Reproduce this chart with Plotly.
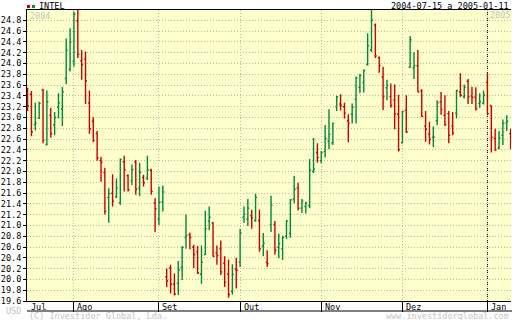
import plotly.graph_objects as go
import pandas as pd

# ---- data -------------------------------------------------------------
holidays = ['2004-09-06', '2004-11-25', '2004-12-24']
dates = [d.strftime('%Y-%m-%d') for d in pd.bdate_range('2004-07-15', '2005-01-11')
         if d.strftime('%Y-%m-%d') not in holidays]

open_ = [23.45, 23.43, 22.87, 22.99, 23.51, 22.50, 23.04, 22.86, 23.19, 23.16,
         23.72, 23.89, 24.04, 24.79, 24.05, 24.08, 23.27, 22.93, 22.70, 22.20,
         21.98, 21.52, 21.59, 21.53, 21.42, 22.18, 21.92, 21.83, 22.18, 21.69,
         21.89, 21.87, 22.02, 21.42, 21.12, 21.43, 20.05, 20.21, 19.91, 19.93,
         20.22, 20.78, 20.83, 20.60, 20.51, 20.10, 20.46, 21.08, 21.05, 20.49,
         20.57, 20.30, 20.10, 19.78, 20.19, 20.32, 21.15, 21.12, 21.18, 21.09,
         21.09, 20.62, 20.32, 21.01, 21.02, 20.60, 20.57, 20.80, 20.85, 21.49,
         21.69, 21.32, 21.35, 21.37, 22.00, 22.35, 22.20, 22.37, 22.56, 22.53,
         23.20, 23.25, 23.20, 22.94, 23.06, 23.34, 23.56, 23.64, 23.98, 24.25,
         24.71, 24.11, 23.75, 23.55, 23.39, 23.32, 23.06, 22.53, 23.13, 23.93,
         23.92, 23.96, 23.49, 22.84, 22.69, 22.63, 22.94, 23.29, 23.04, 23.07,
         22.84, 23.08, 23.47, 23.38, 23.67, 23.40, 23.38, 23.26, 23.26, 23.65,
         23.22, 22.61, 22.43, 22.67, 22.90, 22.70]
high = [23.55, 23.49, 23.27, 23.29, 23.53, 23.50, 23.18, 23.10, 23.45, 23.57,
        24.46, 24.65, 24.96, 25.00, 24.25, 24.22, 23.50, 23.01, 22.75, 22.27,
        22.07, 21.69, 21.95, 21.87, 22.24, 22.29, 21.95, 22.13, 22.21, 22.16,
        21.94, 22.29, 22.05, 21.51, 21.72, 21.74, 20.20, 20.27, 20.11, 20.34,
        20.62, 21.20, 20.87, 20.64, 20.62, 20.63, 21.27, 21.35, 21.06, 20.63,
        20.72, 20.43, 20.37, 20.28, 20.40, 20.94, 21.35, 21.49, 21.29, 21.58,
        21.29, 20.86, 20.54, 21.55, 21.08, 20.85, 20.81, 21.10, 21.49, 21.92,
        21.79, 21.49, 21.44, 22.23, 22.62, 22.52, 22.38, 22.86, 23.15, 22.90,
        23.40, 23.43, 23.27, 23.06, 23.26, 23.76, 23.81, 23.89, 24.56, 25.00,
        24.74, 24.13, 23.94, 23.70, 23.63, 23.61, 23.42, 23.12, 23.41, 24.51,
        24.21, 24.25, 23.52, 23.12, 22.92, 22.83, 23.32, 23.47, 23.41, 23.12,
        23.10, 23.51, 23.82, 23.61, 23.71, 23.57, 23.56, 23.45, 23.50, 23.82,
        23.22, 22.79, 22.75, 22.96, 23.04, 22.79]
low = [23.12, 22.65, 22.76, 22.97, 22.52, 22.48, 22.63, 22.67, 22.98, 22.84,
       23.62, 23.85, 23.94, 24.10, 23.70, 23.25, 22.70, 22.54, 22.20, 21.81,
       21.20, 21.05, 21.35, 21.51, 21.38, 21.63, 21.63, 21.75, 21.57, 21.54,
       21.72, 21.84, 21.57, 20.88, 21.01, 21.26, 19.86, 19.74, 19.70, 19.71,
       19.99, 20.57, 20.56, 20.21, 20.10, 19.92, 20.45, 20.91, 20.42, 20.27,
       20.08, 19.86, 19.66, 19.72, 19.83, 20.23, 21.05, 20.99, 20.94, 21.07,
       20.51, 20.43, 20.23, 20.88, 20.46, 20.39, 20.36, 20.75, 20.77, 21.41,
       21.28, 21.23, 21.22, 21.32, 21.97, 22.16, 22.15, 22.26, 22.41, 22.49,
       23.12, 23.13, 22.98, 22.54, 22.89, 22.89, 23.45, 23.46, 23.96, 24.21,
       24.10, 23.83, 23.14, 23.32, 23.18, 22.78, 22.37, 22.52, 22.71, 23.92,
       23.71, 23.47, 23.01, 22.55, 22.50, 22.45, 22.86, 23.05, 22.84, 22.52,
       22.67, 22.98, 23.38, 23.35, 23.25, 23.25, 23.13, 23.18, 23.24, 23.06,
       22.35, 22.38, 22.41, 22.49, 22.75, 22.41]
close = [23.21, 22.73, 22.90, 23.26, 22.58, 23.29, 22.70, 23.00, 23.27, 23.47,
         24.24, 24.40, 24.91, 24.17, 23.98, 23.68, 22.79, 22.58, 22.25, 22.17,
         21.26, 21.59, 21.45, 21.69, 22.22, 22.03, 21.66, 22.03, 21.67, 21.98,
         21.79, 22.03, 21.63, 21.31, 21.43, 21.62, 19.97, 19.91, 19.73, 20.18,
         20.59, 20.81, 20.78, 20.46, 20.12, 20.32, 20.94, 21.15, 20.43, 20.44,
         20.14, 19.95, 19.72, 20.09, 20.17, 20.86, 21.21, 21.32, 21.14, 21.52,
         20.57, 20.67, 20.29, 21.38, 20.54, 20.66, 20.78, 21.08, 21.47, 21.67,
         21.32, 21.45, 21.41, 22.02, 22.04, 22.26, 22.35, 22.61, 22.69, 22.89,
         23.38, 23.22, 23.08, 22.89, 23.19, 23.73, 23.78, 23.87, 24.33, 24.80,
         24.14, 23.96, 23.38, 23.59, 23.22, 23.07, 22.40, 23.11, 22.73, 24.44,
         23.96, 23.47, 23.02, 22.78, 22.59, 22.64, 23.27, 23.15, 22.87, 22.67,
         22.71, 23.50, 23.41, 23.56, 23.38, 23.37, 23.16, 23.29, 23.41, 23.07,
         22.63, 22.40, 22.62, 22.89, 22.93, 22.51]

month_starts = ['2004-07-15', '2004-08-02', '2004-09-01', '2004-10-01',
                '2004-11-01', '2004-12-01', '2005-01-03']
month_labels = ['Jul', 'Ago', 'Set', 'Out', 'Nov', 'Dez', 'Jan']
year_start = '2005-01-03'

# ---- geometry ---------------------------------------------------------
W, H = 512, 320
ML, MR, MT, MB = 23, 1, 10, 19
PW, PH = W - ML - MR, H - MT - MB
FONT = 'DejaVu Sans Mono'
FS = 8.5
GREY = '#c4c4c4'
GRID = dict(showgrid=True, gridcolor='#b8b8b8', griddash='1px,2px', gridwidth=1)


def px(x):
    return (x - ML) / PW


def py(y):
    return (H - MB - y) / PH


fig = go.Figure(go.Ohlc(
    x=dates, open=open_, high=high, low=low, close=close,
    increasing=dict(line=dict(color='#00883c', width=1.4)),
    decreasing=dict(line=dict(color='#cc0000', width=1.4)),
    tickwidth=0.38, showlegend=False, hoverinfo='skip'))

annotations = []
for m, lab in zip(month_starts, month_labels):
    annotations.append(dict(x=m, xref='x', y=py(306.3), yref='paper',
                            text=lab, showarrow=False, xanchor='left',
                            yanchor='middle', xshift=1.5, height=9,
                            font=dict(family=FONT, size=FS, color='black')))

annotations += [
    dict(x=px(33), y=py(5.5), xref='paper', yref='paper', text='INTEL',
         showarrow=False, xanchor='left', yanchor='middle',
         font=dict(family=FONT, size=FS, color='black')),
    dict(x=px(511.5), y=py(5.5), xref='paper', yref='paper',
         text='2004-07-15 a 2005-01-11', showarrow=False, xanchor='right',
         yanchor='middle', font=dict(family=FONT, size=FS, color='black')),
    dict(x=px(24.5), y=py(16), xref='paper', yref='paper', text='2004',
         showarrow=False, xanchor='left', yanchor='middle',
         font=dict(family=FONT, size=FS, color=GREY)),
    dict(x=year_start, xref='x', y=py(15), yref='paper', text='2005',
         showarrow=False, xanchor='left', yanchor='middle', xshift=1,
         font=dict(family=FONT, size=FS, color=GREY)),
    dict(x=px(-0.5), y=py(310.3), xref='paper', yref='paper', text='USD',
         showarrow=False, xanchor='left', yanchor='middle', height=7,
         font=dict(family=FONT, size=FS, color=GREY)),
    dict(x=px(22.5), y=py(316), xref='paper', yref='paper',
         text='(C) Investidor Global, Lda.', showarrow=False, xanchor='left',
         yanchor='middle', height=8,
         font=dict(family=FONT, size=FS, color=GREY)),
    dict(x=px(511.5), y=py(316), xref='paper', yref='paper',
         text='www.investidorglobal.com', showarrow=False, xanchor='right',
         yanchor='middle', height=8,
         font=dict(family=FONT, size=FS, color=GREY)),
]

shapes = [
    # legend squares
    dict(type='rect', xref='paper', yref='paper', x0=px(23), x1=px(26),
         y0=py(8), y1=py(5), fillcolor='#cc0000', line=dict(width=0)),
    dict(type='rect', xref='paper', yref='paper', x0=px(28), x1=px(31),
         y0=py(8), y1=py(5), fillcolor='#00883c', line=dict(width=0)),
    # year separator
    dict(type='line', xref='x', yref='paper', x0=dates.index(year_start),
         x1=dates.index(year_start), y0=0, y1=1, layer='below',
         line=dict(color='black', width=1, dash='1px,1px')),
    # bottom line of the date row
    dict(type='line', xref='paper', yref='paper', x0=0, x1=px(W),
         y0=py(311), y1=py(311), line=dict(color='black', width=1)),
]

fig.update_layout(
    width=W, height=H, autosize=False,
    margin=dict(l=ML, r=MR, t=MT, b=MB, pad=0),
    paper_bgcolor='white', plot_bgcolor='#ffffcc',
    font=dict(family=FONT, size=FS, color='black'),
    annotations=annotations, shapes=shapes,
    xaxis=dict(type='category', range=[-0.15, len(dates) - 0.9],
               rangeslider=dict(visible=False),
               tickmode='array', tickvals=month_starts[1:],
               ticktext=['' for _ in month_starts[1:]],
               ticks='outside', ticklen=10, tickcolor='black', tickwidth=1,
               showline=True, linecolor='black', linewidth=1, mirror=True,
               zeroline=False, fixedrange=True, **GRID),
    yaxis=dict(range=[19.6, 24.99], tick0=19.6, dtick=0.2, tickformat='.1f',
               ticks='outside', ticklen=3, tickcolor='black',
               showline=True, linecolor='black', linewidth=1,
               zeroline=False, fixedrange=True,
               tickfont=dict(family=FONT, size=FS, color='black'), **GRID),
)

fig.write_html('out.html')
